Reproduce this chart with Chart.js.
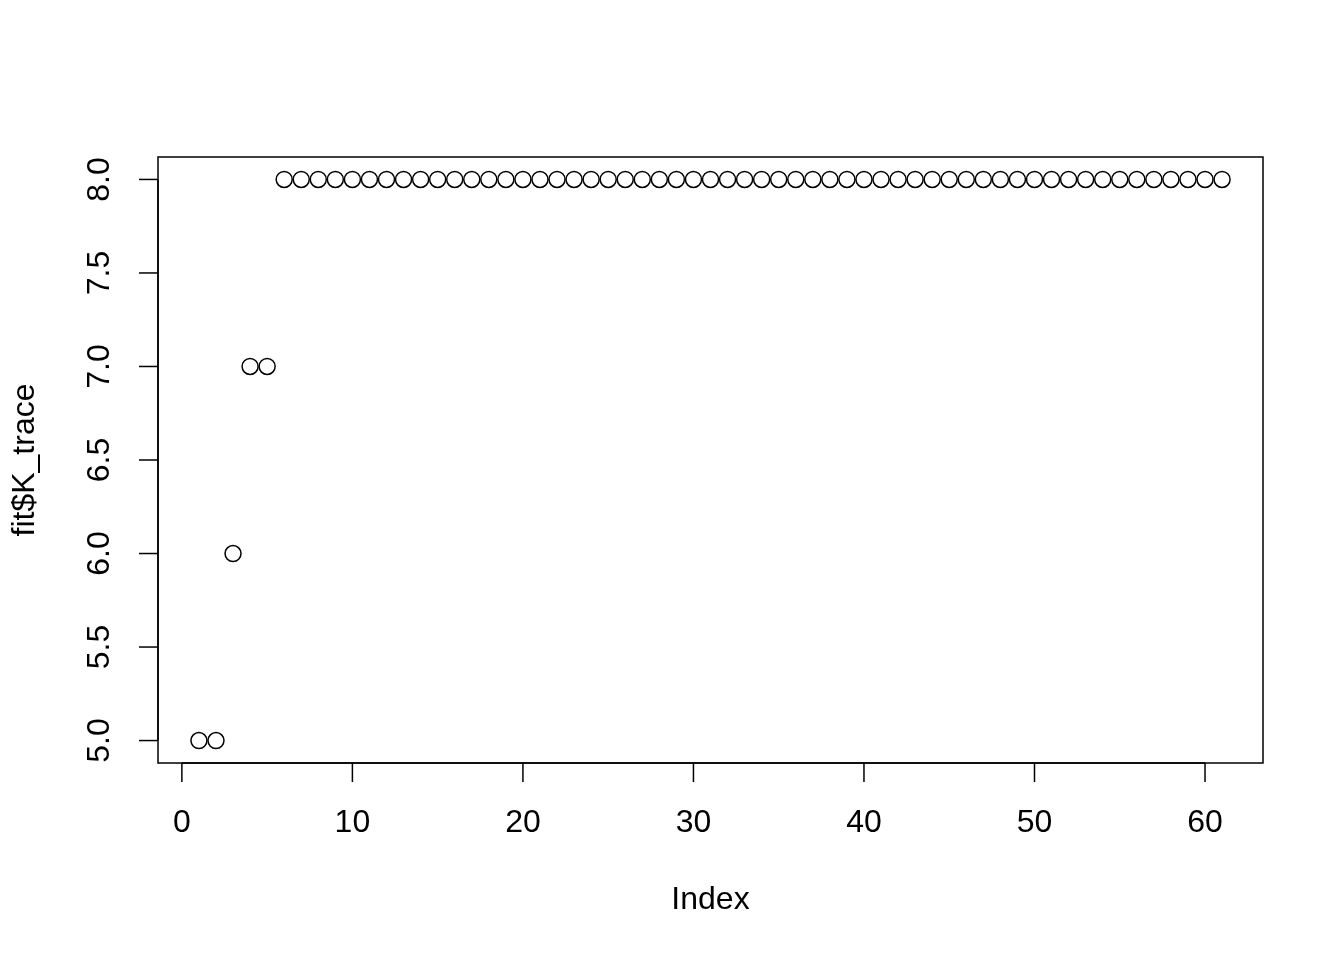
<!DOCTYPE html>
<html><head><meta charset="utf-8">
<script src="https://cdn.jsdelivr.net/npm/chart.js@4/dist/chart.umd.min.js"></script>
<style>html,body{margin:0;padding:0;background:#fff;}#wrap{width:1344px;height:960px;}</style>
</head><body><div id="wrap"><canvas id="c" width="1344" height="960"></canvas></div>
<script>
const indices = [1,2,3,4,5,6,7,8,9,10,11,12,13,14,15,16,17,18,19,20,21,22,23,24,25,26,27,28,29,30,31,32,33,34,35,36,37,38,39,40,41,42,43,44,45,46,47,48,49,50,51,52,53,54,55,56,57,58,59,60,61];
const kTrace = [5,5,6,7,7,8,8,8,8,8,8,8,8,8,8,8,8,8,8,8,8,8,8,8,8,8,8,8,8,8,8,8,8,8,8,8,8,8,8,8,8,8,8,8,8,8,8,8,8,8,8,8,8,8,8,8,8,8,8,8,8];
const xTicks = [0,10,20,30,40,50,60];
const yTicks = [5.0,5.5,6.0,6.5,7.0,7.5,8.0];
const xTitle = "Index";
const yTitle = "fit$K_trace";

const FONT = "Liberation Sans, Arial, sans-serif";
const FS = 32;

const rAxes = {
  id: 'rAxes',
  afterDraw(chart) {
    const ctx = chart.ctx, a = chart.chartArea;
    const xs = chart.scales.x, ys = chart.scales.y;
    ctx.save();
    ctx.strokeStyle = '#000'; ctx.fillStyle = '#000'; ctx.lineWidth = 1.5;
    ctx.strokeRect(a.left, a.top, a.right - a.left, a.bottom - a.top);
    const tl = 19;
    const x0 = xs.getPixelForValue(xTicks[0]), x1 = xs.getPixelForValue(xTicks[xTicks.length-1]);
    ctx.beginPath(); ctx.moveTo(x0, a.bottom); ctx.lineTo(x1, a.bottom); ctx.stroke();
    ctx.font = FS + 'px ' + FONT; ctx.textAlign = 'center'; ctx.textBaseline = 'middle';
    xTicks.forEach(v => {
      const p = xs.getPixelForValue(v);
      ctx.beginPath(); ctx.moveTo(p, a.bottom); ctx.lineTo(p, a.bottom + tl); ctx.stroke();
      ctx.fillText(String(v), p, a.bottom + 60);
    });
    const y0 = ys.getPixelForValue(yTicks[0]), y1 = ys.getPixelForValue(yTicks[yTicks.length-1]);
    ctx.beginPath(); ctx.moveTo(a.left, y0); ctx.lineTo(a.left, y1); ctx.stroke();
    yTicks.forEach(v => {
      const p = ys.getPixelForValue(v);
      ctx.beginPath(); ctx.moveTo(a.left, p); ctx.lineTo(a.left - tl, p); ctx.stroke();
      ctx.save(); ctx.translate(a.left - 58, p); ctx.rotate(-Math.PI/2);
      ctx.fillText(v.toFixed(1), 0, 0); ctx.restore();
    });
    ctx.fillText(xTitle, (a.left + a.right)/2, a.bottom + 137);
    ctx.save(); ctx.translate(25, (a.top + a.bottom)/2); ctx.rotate(-Math.PI/2);
    ctx.fillText(yTitle, 0, 0); ctx.restore();
    ctx.restore();
  }
};

new Chart(document.getElementById('c'), {
  type: 'scatter',
  data: { datasets: [{
    data: indices.map((x, i) => ({x: x, y: kTrace[i]})),
    pointStyle: 'circle', pointRadius: 8, pointHoverRadius: 8,
    borderColor: '#000', backgroundColor: 'rgba(0,0,0,0)', borderWidth: 1.5
  }]},
  options: {
    responsive: false, animation: false, devicePixelRatio: 1,
    layout: { padding: { left: 158, right: 81, top: 157, bottom: 197 } },
    plugins: { legend: { display: false }, tooltip: { enabled: false } },
    scales: {
      x: { type: 'linear', min: -1.4, max: 63.4, display: false },
      y: { type: 'linear', min: 4.88, max: 8.12, display: false }
    }
  },
  plugins: [rAxes]
});
</script></body></html>
